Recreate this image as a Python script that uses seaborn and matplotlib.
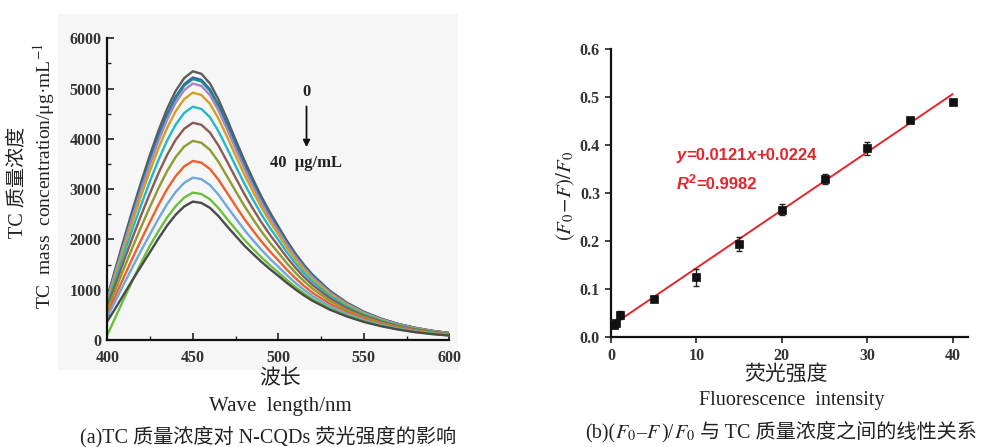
import numpy as np
import pandas as pd
import matplotlib
matplotlib.use("Agg")
import matplotlib.pyplot as plt
from matplotlib.patches import Rectangle
from matplotlib.ticker import MultipleLocator
import seaborn as sns

sns.set_theme(style="ticks")
plt.rcParams["font.family"] = ["Liberation Serif", "Noto Sans CJK SC", "DejaVu Sans"]
plt.rcParams["mathtext.fontset"] = "stix"

# ---------------- (a) fluorescence spectra ----------------
wavelength = [400, 405, 410, 415, 420, 425, 430, 435, 440, 445, 450, 455, 460, 465,
              470, 475, 480, 485, 490, 495, 500, 505, 510, 515, 520, 530, 540, 550,
              560, 570, 580, 590, 600]

spec_0 = [850, 1450, 2040, 2615, 3165, 3685, 4170, 4600, 4955, 5210, 5344, 5294, 5104,
          4784, 4394, 3984, 3584, 3210, 2860, 2545, 2260, 1975, 1720, 1495, 1300, 983,
          744, 563, 426, 322, 244, 184, 139]
spec_1 = [827, 1411, 1987, 2547, 3084, 3592, 4067, 4488, 4837, 5087, 5220, 5171, 4985,
          4673, 4292, 3892, 3502, 3138, 2798, 2491, 2213, 1935, 1686, 1466, 1275, 965,
          731, 553, 419, 317, 240, 181, 137]
spec_2 = [822, 1403, 1974, 2532, 3066, 3571, 4043, 4463, 4810, 5059, 5191, 5142, 4958,
          4647, 4268, 3871, 3484, 3122, 2783, 2478, 2202, 1925, 1678, 1459, 1269, 961,
          728, 551, 417, 315, 239, 180, 136]
spec_3 = [805, 1374, 1935, 2483, 3007, 3503, 3968, 4382, 4723, 4970, 5100, 5053, 4871,
          4566, 4194, 3804, 3424, 3070, 2738, 2438, 2168, 1896, 1653, 1438, 1251, 947,
          718, 544, 412, 311, 236, 178, 134]
spec_4 = [771, 1318, 1858, 2384, 2889, 3368, 3818, 4219, 4551, 4791, 4919, 4873, 4698,
          4404, 4045, 3670, 3305, 2965, 2647, 2359, 2099, 1837, 1603, 1395, 1215, 921,
          699, 530, 401, 303, 230, 173, 131]
spec_5 = [719, 1231, 1738, 2232, 2707, 3159, 3586, 3968, 4285, 4516, 4639, 4596, 4431,
          4153, 3814, 3464, 3121, 2804, 2506, 2237, 1993, 1747, 1526, 1330, 1159, 880,
          669, 508, 385, 291, 220, 166, 125]
spec_6 = [660, 1132, 1601, 2059, 2500, 2921, 3322, 3682, 3982, 4202, 4320, 4280, 4126,
          3868, 3552, 3229, 2912, 2620, 2346, 2097, 1872, 1644, 1438, 1255, 1095, 834,
          635, 483, 366, 277, 209, 158, 119]
spec_7 = [594, 1020, 1446, 1864, 2266, 2652, 3023, 3360, 3640, 3847, 3960, 3923, 3782,
          3545, 3256, 2963, 2675, 2413, 2165, 1940, 1735, 1527, 1339, 1170, 1022, 781,
          597, 455, 345, 261, 197, 148, 112]
spec_8 = [520, 896, 1275, 1647, 2006, 2354, 2692, 3002, 3260, 3454, 3561, 3527, 3401,
          3188, 2928, 2669, 2413, 2183, 1965, 1765, 1584, 1398, 1229, 1077, 942, 723,
          555, 423, 322, 244, 183, 138, 104]
spec_9 = [458, 793, 1133, 1467, 1791, 2106, 2417, 2704, 2945, 3127, 3229, 3199, 3084,
          2891, 2655, 2424, 2195, 1992, 1798, 1620, 1458, 1290, 1137, 999, 876, 675,
          520, 397, 303, 229, 172, 129, 97]
spec_10 = [100, 470, 840, 1200, 1555, 1880, 2170, 2437, 2662, 2833, 2931, 2903, 2800,
           2624, 2410, 2204, 1999, 1820, 1649, 1490, 1345, 1194, 1055, 929, 816, 631,
           488, 374, 285, 216, 162, 122, 92]
spec_11 = [370, 645, 928, 1208, 1481, 1750, 2022, 2277, 2492, 2657, 2752, 2726, 2629,
           2464, 2263, 2072, 1882, 1717, 1559, 1412, 1277, 1136, 1006, 887, 780, 605,
           469, 360, 275, 208, 156, 117, 88]

spectra = [spec_0, spec_1, spec_2, spec_3, spec_4, spec_5,
           spec_6, spec_7, spec_8, spec_9, spec_10, spec_11]
tc_levels = ["0", "0.3", "0.6", "1", "5", "10", "15", "20", "25", "30", "35", "40"]
line_colors = ["#5c5c5c", "#2f55b0", "#1e8c8c", "#a982c8", "#d4a020", "#22b8cc",
               "#8a5a55", "#8f9a30", "#f0602a", "#6fa8dc", "#6cbf3c", "#4a4a4a"]

# ---------------- (b) linear relation ----------------
conc = [0.3, 0.6, 1.0, 5, 10, 15, 20, 25, 30, 35, 40]
quench = [0.025, 0.029, 0.045, 0.079, 0.124, 0.193, 0.265, 0.329, 0.393, 0.453, 0.489]
quench_err = [0.006, 0.006, 0.008, 0.005, 0.018, 0.015, 0.011, 0.010, 0.014, 0.004, 0.003]
slope, intercept, r2 = 0.0121, 0.0224, 0.9982

W, H = 991, 447
fig = plt.figure(figsize=(W / 100, H / 100), dpi=100)
fig.patch.set_facecolor("white")
renderer = fig.canvas.get_renderer()


def fx(x):
    return x / W


def fy(y):
    return 1 - y / H


def text_run(x_px, y_px, pieces, **common):
    """Write consecutive text pieces on one baseline, each with its own style."""
    x = x_px
    for s, style in pieces:
        kw = dict(common)
        kw.update(style)
        dy = kw.pop("rise", 0)
        t = fig.text(fx(x), fy(y_px - dy), s, ha="left", va="baseline", **kw)
        x += t.get_window_extent(renderer=renderer).width
    return x


# light panel backdrop behind (a)
fig.patches.append(Rectangle((fx(58), fy(370)), fx(458) - fx(58), fy(14) - fy(370),
                             transform=fig.transFigure, facecolor="#f6f6f6",
                             edgecolor="none", zorder=-5))

tick_font = dict(family=["Liberation Serif"], weight="bold", size=11.5)

# ----- panel (a) -----
axa = fig.add_axes([fx(107.3), fy(340), fx(449.3) - fx(107.3), fy(38.3) - fy(340)])
axa.set_facecolor("none")
df = pd.DataFrame({
    "wavelength": np.tile(wavelength, len(spectra)),
    "intensity": np.concatenate(spectra),
    "level": np.repeat(tc_levels, len(wavelength)),
})
sns.lineplot(data=df, x="wavelength", y="intensity", hue="level", hue_order=tc_levels,
             palette=line_colors, legend=False, linewidth=1.7, ax=axa, sort=False)
axa.set_xlim(400, 600)
axa.set_ylim(0, 6000)
axa.set_xticks([400, 450, 500, 550, 600])
axa.set_yticks(range(0, 6001, 1000))
axa.xaxis.set_minor_locator(MultipleLocator(25))
axa.yaxis.set_minor_locator(MultipleLocator(500))
axa.tick_params(which="major", direction="in", length=5, width=1.2, color="#222222", pad=4)
axa.tick_params(axis="x", which="major", pad=7)
axa.tick_params(which="minor", direction="in", length=3, width=1.0, color="#222222")
for lab in axa.get_xticklabels() + axa.get_yticklabels():
    lab.set_fontproperties(tick_font)
    lab.set_color("#333333")
axa.set_xlabel("")
axa.set_ylabel("")
for side in ["top", "right"]:
    axa.spines[side].set_visible(False)
for side in ["left", "bottom"]:
    axa.spines[side].set_linewidth(1.6)
    axa.spines[side].set_color("#111111")

axa.text(516.5, 4930, "0", ha="center", va="center", fontsize=12, fontweight="bold",
         color="#222222")
axa.annotate("", xy=(516.5, 3780), xytext=(516.5, 4700),
             arrowprops=dict(arrowstyle="-|>", color="#111111", lw=1.3,
                             mutation_scale=10))
axa.text(516, 3520, "40  μg/mL", ha="center", va="center", fontsize=12,
         fontweight="bold", color="#222222")

# ----- panel (b) -----
axb = fig.add_axes([fx(611), fy(336.7), fx(968) - fx(611), fy(49.3) - fy(336.7)])
axb.set_facecolor("none")
xfit = np.array([0.0, 40.0])
fit_df = pd.DataFrame({"c": xfit, "q": intercept + slope * xfit})
sns.lineplot(data=fit_df, x="c", y="q", color="#e3262b", linewidth=1.4, ax=axb, zorder=2)
axb.errorbar(conc, quench, yerr=quench_err, fmt="none", ecolor="#222222",
             elinewidth=1.0, capsize=2.5, capthick=1.0, zorder=3)
pts = pd.DataFrame({"c": conc, "q": quench})
sns.scatterplot(data=pts, x="c", y="q", marker="s", s=34, color="#111111",
                edgecolor="#111111", linewidth=0.5, ax=axb, zorder=4)
axb.set_xlim(0, 41.8)
axb.set_ylim(0, 0.6)
axb.set_xticks([0, 10, 20, 30, 40])
axb.set_yticks(np.arange(0, 0.61, 0.1))
axb.set_yticklabels([f"{v:.1f}" for v in np.arange(0, 0.61, 0.1)])
axb.tick_params(which="major", direction="out", length=4, width=1.2, color="#222222", pad=4)
for lab in axb.get_xticklabels() + axb.get_yticklabels():
    lab.set_fontproperties(tick_font)
    lab.set_color("#333333")
axb.set_xlabel("")
axb.set_ylabel("")
for side in ["top", "right"]:
    axb.spines[side].set_visible(False)
for side in ["left", "bottom"]:
    axb.spines[side].set_linewidth(1.6)
    axb.spines[side].set_color("#111111")

# regression equation
eq_style = dict(color="#e3262b", family=["Liberation Sans"], weight="bold", fontsize=12)
ital = dict(style="italic")
text_run(677, 160, [("y", ital), ("=0.0121", {}), ("x", ital), ("+0.0224", {})], **eq_style)
text_run(677, 189, [("R", ital), ("2", dict(fontsize=9, rise=6)), ("=0.9982", {})],
         **eq_style)

# ----- axis titles and captions -----
label_fam = ["Liberation Serif", "Noto Sans CJK SC"]
ink = "#222222"
fig.text(fx(18), fy(182), "TC 质量浓度", rotation=90, ha="center", va="center",
         fontsize=14.5, family=label_fam, color=ink)
fig.text(fx(44), fy(176), r"TC  mass  concentration/μg·mL$^{-1}$", rotation=90,
         ha="center", va="center", fontsize=14, family=label_fam, color=ink)
fig.text(fx(280), fy(380), "波长", ha="center", va="center", fontsize=15,
         family=label_fam, color=ink)
fig.text(fx(280), fy(406), "Wave  length/nm", ha="center", va="center", fontsize=15,
         family=label_fam, color=ink)
fig.text(fx(268), fy(437), "(a)TC 质量浓度对 N-CQDs 荧光强度的影响", ha="center",
         va="center", fontsize=14.5, family=label_fam, color=ink)

fig.text(fx(566), fy(196), r"$(F_0\!-\!F)/F_0$", rotation=90, ha="center", va="center",
         fontsize=15, color=ink)
fig.text(fx(786), fy(375), "荧光强度", ha="center", va="center", fontsize=15,
         family=label_fam, color=ink)
fig.text(fx(792), fy(400), "Fluorescence  intensity", ha="center", va="center",
         fontsize=14.5, family=label_fam, color=ink)

cap_style = dict(family=label_fam, fontsize=14.5, color=ink)
text_run(585, 438, [("(b)(", {}), (r"$F_0$", {}), ("–", {}), (r"$F$", {}),
                    (")/", {}), (r"$F_0$", {}), (" 与 TC 质量浓度之间的线性关系", {})],
         **cap_style)

fig.savefig("out.png", dpi=100, facecolor="white")
